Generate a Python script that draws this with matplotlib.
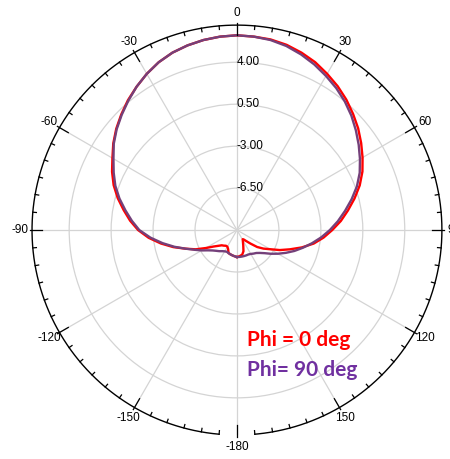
import numpy as np
import matplotlib.pyplot as plt

# Radiation pattern (dB), angle in degrees
ang_90 = list(range(-180, 181, 5))
gain_90 = [-7.75, -7.8, -7.85, -7.9, -7.95, -8.0, -7.95, -7.85, -7.7, -7.55,
           -7.35, -7.05, -6.6, -6.1, -5.45, -4.6, -3.7, -2.75, -1.85, -1.2,
           -0.55, 0.15, 0.8, 1.35, 1.9, 2.55, 3.1, 3.6, 4.1, 4.6,
           5.05, 5.45, 5.75, 5.95, 6.1, 6.2, 6.25, 6.2, 6.1, 5.9,
           5.6, 5.25, 4.85, 4.45, 4.0, 3.5, 2.95, 2.4, 1.85, 1.3,
           0.65, -0.1, -0.85, -1.55, -2.25, -2.95, -3.65, -4.3, -4.9, -5.5,
           -6.05, -6.55, -7.0, -7.3, -7.5, -7.6, -7.7, -7.75, -7.75, -7.75,
           -7.75, -7.75, -7.75]

ang_0 = list(range(-180, 146, 5)) + [148, 152, 158, 163, 168, 175, 180]
gain_0 = [-7.75, -7.8, -7.85, -7.9, -7.95, -8.25, -8.4, -8.4, -8.3, -8.2,
          -7.95, -7.6, -7.0, -6.2, -5.45, -4.5, -3.55, -2.6, -1.75, -1.05,
          -0.4, 0.3, 0.95, 1.5, 2.0, 2.6, 3.15, 3.65, 4.15, 4.6,
          5.05, 5.45, 5.75, 5.95, 6.1, 6.2, 6.25, 6.2, 6.15, 6.0,
          5.75, 5.45, 5.05, 4.65, 4.2, 3.7, 3.2, 2.65, 2.1, 1.55,
          0.9, 0.15, -0.6, -1.3, -2.05, -2.75, -3.5, -4.4, -5.3, -6.05,
          -6.8, -7.3, -7.8, -8.4, -8.8, -9.05,
          -9.1, -8.95, -8.6, -8.15, -7.9, -7.8, -7.75]

ring_values = [-6.5, -3.0, 0.5, 4.0]
ring_labels = ["-6.50", "-3.00", "0.50", "4.00"]
angle_ticks = [0, 30, 60, 90, 120, 150, 180, 210, 240, 270, 300, 330]
angle_labels = ["0", "30", "60", "90", "120", "150", "-180", "-150", "-120", "-90", "-60", "-30"]

r_min, r_max = -10, 7.1
red = "#ff0000"
purple = "#74407a"

plt.rcParams['font.family'] = ['Liberation Sans', 'DejaVu Sans']

fig = plt.figure(figsize=(4.5, 4.59), dpi=100)
ax = fig.add_axes([0.0711, 0.0523, 0.911, 0.893], projection='polar')
ax.set_theta_zero_location('N')
ax.set_theta_direction(-1)
ax.set_ylim(r_min, r_max)

ax.plot(np.radians(ang_0), gain_0, color=red, lw=1.7, zorder=3)
ax.plot(np.radians(ang_90), gain_90, color=purple, lw=1.7, zorder=4)

# grid
ax.set_yticks(ring_values)
ax.set_yticklabels([])
ax.set_xticks(np.radians(angle_ticks))
ax.set_xticklabels(angle_labels, fontsize=8.5)
ax.grid(True, color="#d4d4d4", lw=0.9)
ax.tick_params(axis='x', which='major', length=0, pad=1.5)
ax.spines['polar'].set_visible(False)

# outer ring with the small gap at the bottom, and its tick marks
th = np.radians(np.linspace(-175, 175, 400))
ax.plot(th, np.full_like(th, r_max), color='black', lw=1, clip_on=False, zorder=5)
for a in range(0, 360, 5):
    if a % 30 == 0:
        r0, r1 = r_max - 0.85, r_max + 0.2
    else:
        r0, r1 = r_max - 0.3, r_max
    ax.plot([np.radians(a)] * 2, [r0, r1], color='black', lw=0.9,
            clip_on=False, zorder=5)

for v, lab in zip(ring_values, ring_labels):
    ax.text(0, v, lab, fontsize=8.5, ha='left', va='center',
            transform=ax.transData, zorder=6)

fig.text(0.549, 0.259, "Phi = 0 deg", color=red, fontsize=15,
         fontweight='bold', family=['Lato', 'DejaVu Sans'], va='center')
fig.text(0.549, 0.194, "Phi= 90 deg", color="#7030a0", fontsize=15,
         fontweight='bold', family=['Lato', 'DejaVu Sans'], va='center')

fig.savefig('out.png', dpi=100)
